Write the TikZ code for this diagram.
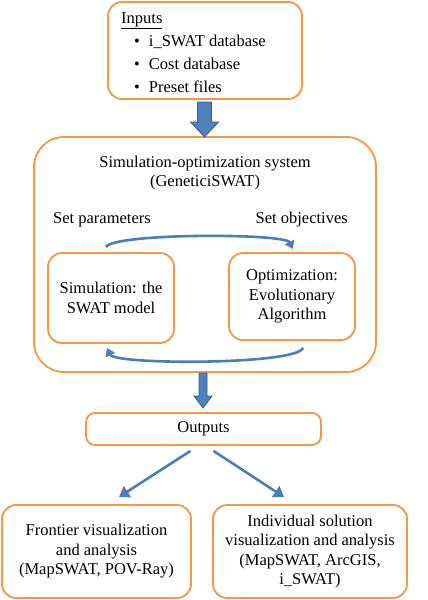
\documentclass[tikz,border=0pt]{standalone}
\usepackage{fontspec}
\setmainfont{Liberation Serif}
\usetikzlibrary{arrows.meta,calc}
\definecolor{oline}{HTML}{F79646}
\definecolor{bline}{HTML}{4A7EBB}
\definecolor{bfill}{HTML}{4F81BD}
\definecolor{bdraw}{HTML}{385D8A}
\tikzset{
  obox/.style={draw=oline, line width=1.8pt, rounded corners=14pt, fill=white, align=center, inner sep=0pt},
  txt/.style={inner sep=0pt, align=center},
  flow/.style={draw=bline, line width=2.6pt, -{Triangle[length=8pt,width=10pt]}},
  blockarrow/.style={fill=bfill, draw=bdraw, line width=0.8pt},
}
\begin{document}
\begin{tikzpicture}[x=1pt,y=-1pt,font=\fontsize{16.5}{19.5}\selectfont]
\useasboundingbox (0,0) rectangle (428,600);
% inputs
\node[obox, minimum width=194, minimum height=97] (inputs) at (205,50.5) {};
\node[txt, anchor=west] (inT) at (121,21) {\underline{Inputs}};
\node[txt, anchor=west] (in1) at (134,42) {\textbullet\hspace{9pt}i\_SWAT database};
\node[txt, anchor=west] (in2) at (134,64) {\textbullet\hspace{9pt}Cost database};
\node[txt, anchor=west] (in3) at (134,87) {\textbullet\hspace{9pt}Preset files};
% big box
\node[obox, rounded corners=30pt, minimum width=342, minimum height=235] (sys) at (205,254.5) {};
\node[txt] (sysT) at (205,173) {Simulation-optimization system\\(GeneticiSWAT)};
\node[txt, anchor=west] (setp) at (53,220) {Set parameters};
\node[txt, anchor=east] (seto) at (348,220) {Set objectives};
\node[obox, minimum width=126, minimum height=90] (sim) at (111,298) {Simulation: the\\SWAT model};
\node[obox, minimum width=126, minimum height=87] (opt) at (292,296.5) {Optimization:\\Evolutionary\\Algorithm};
% block arrow inputs -> system
\draw[blockarrow] (197.5,102) -- (211.5,102) -- (211.5,122) -- (218.5,122) -- (204.5,137) -- (190.5,122) -- (197.5,122) -- cycle;
% loop arrows
\draw[flow] ($(sim.north)+(-5,-5)$) .. controls (112,233) and (285,233) .. ($(opt.north)+(1,-3)$);
\draw[flow] ($(opt.south)+(11,7)$) .. controls (297,365) and (115,365) .. ($(sim.south)+(-4,4)$);
% outputs
\node[obox, rounded corners=9pt, minimum width=235, minimum height=32] (out) at (203.5,429) {Outputs};
\draw[blockarrow] (199,373) -- (207,373) -- (207,396) -- (212,396) -- (203,408) -- (194,396) -- (199,396) -- cycle;
\node[obox, minimum width=189, minimum height=93] (front) at (96.5,551.5) {Frontier visualization\\and analysis\\(MapSWAT, POV-Ray)};
\node[obox, minimum width=194, minimum height=93] (indiv) at (310,551.5) {Individual solution\\visualization and analysis\\(MapSWAT, ArcGIS,\\i\_SWAT)};
\coordinate (fa) at (119,497);
\coordinate (ia) at (284,497);
\draw[flow, -{Triangle[length=10pt,width=13pt]}] ($(out.south)+(-13,5)$) -- (fa);
\draw[flow, -{Triangle[length=10pt,width=13pt]}] ($(out.south)+(10,5)$) -- (ia);
\end{tikzpicture}
\end{document}
